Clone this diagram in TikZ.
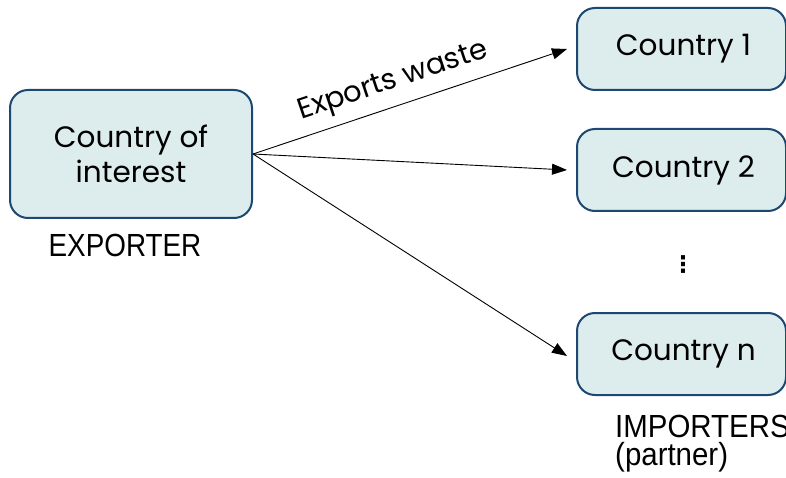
\documentclass[tikz,border=0pt]{standalone}
\usepackage{fontspec}
\setmainfont{Poppins}
\newfontfamily\exportfont[FakeStretch=0.87]{Liberation Sans}
\newfontfamily\importfont[FakeStretch=0.92]{Liberation Sans}
\newfontfamily\symfont{DejaVu Sans}
\usetikzlibrary{arrows.meta}
\definecolor{boxfill}{HTML}{DDECEC}
\definecolor{boxline}{HTML}{1D4872}
\tikzset{
  cbox/.style={draw=boxline, fill=boxfill, line width=2pt, rounded corners=18pt, align=center, font=\fontsize{29.5}{35}\selectfont},
  conn/.style={-{Triangle[length=15pt,width=11pt]}, line width=0.9pt},
}
\begin{document}
\begin{tikzpicture}[x=1pt,y=-1pt]
\useasboundingbox (0,0) rectangle (786,478);
\node[cbox, minimum width=242pt, minimum height=128pt] (src) at (131,154) {Country of\\interest};
\node[cbox, minimum width=209pt, minimum height=82pt, anchor=west] (c1) at (576,49) {\hspace*{4pt}\raisebox{-2.5pt}{Country 1}};
\node[cbox, minimum width=209pt, minimum height=82pt, anchor=west] (c2) at (576,170) {\hspace*{4pt}\raisebox{-2.5pt}{Country 2}};
\node[cbox, minimum width=209pt, minimum height=82pt, anchor=west] (cn) at (576,354) {\hspace*{4pt}\raisebox{-2.5pt}{Country n}};
\node[font=\exportfont\fontsize{32}{32}\selectfont] (exp) at (125,245) {EXPORTER};
\node[font=\importfont\fontsize{32}{28}\selectfont, align=left, anchor=base west, inner sep=0pt] (imp) at (615,465) {IMPORTERS\\(partner)};
\node[font=\symfont\bfseries\fontsize{23}{23}\selectfont, inner sep=0pt] (dots) at (683,265) {⋮};
\coordinate (o) at (src.east);
\draw[conn] (o) -- ([xshift=-9pt]c1.west)
  node[sloped, above, font=\fontsize{29}{30}\selectfont, pos=0.47, yshift=6pt] (lab) {Exports waste};
\draw[conn] (o) -- ([xshift=-9pt]c2.west);
\draw[conn] (o) -- ([xshift=-9pt,yshift=-2pt]cn.west);
\end{tikzpicture}
\end{document}
